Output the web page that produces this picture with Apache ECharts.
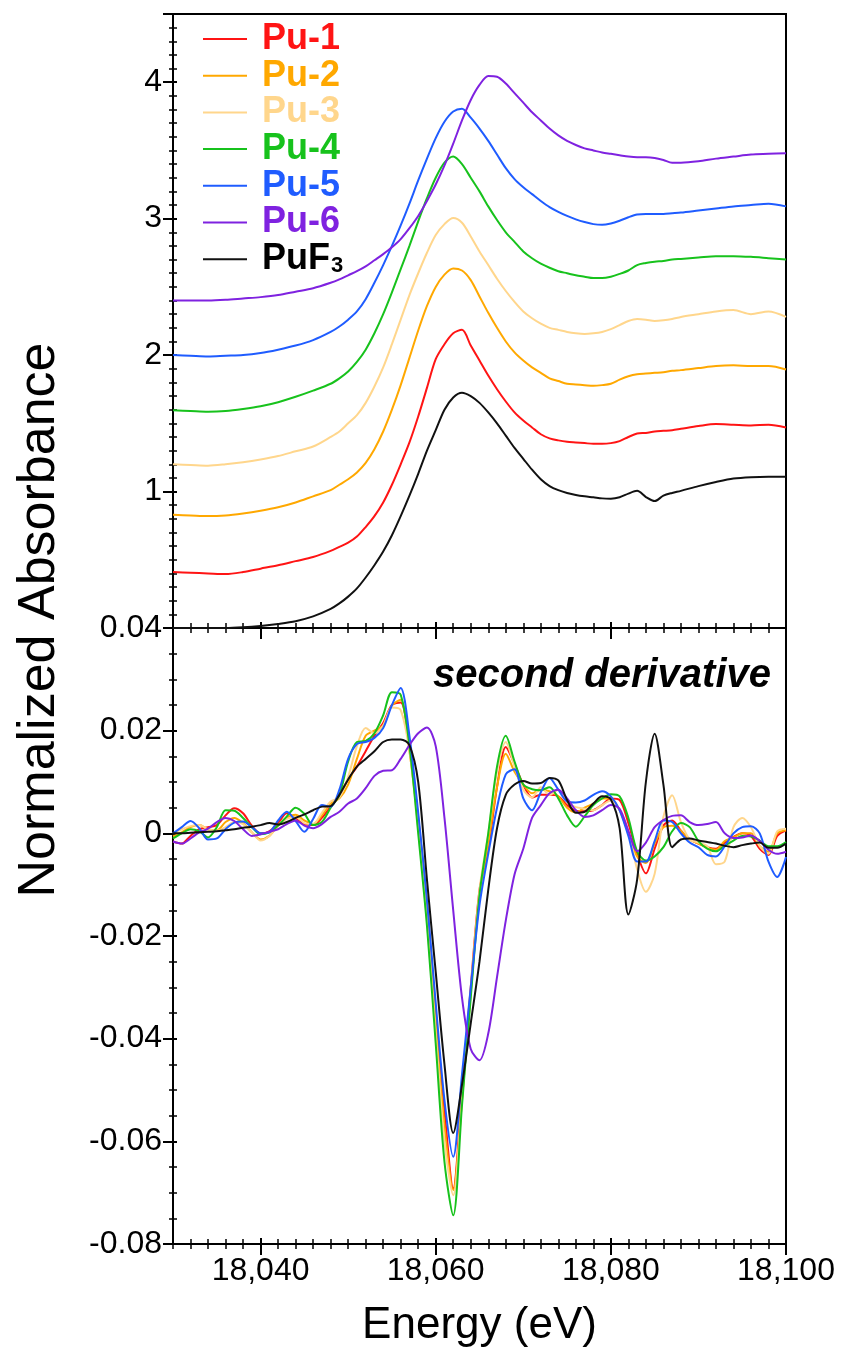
<!DOCTYPE html>
<html>
<head>
<meta charset="utf-8">
<title>Pu L3-edge XANES</title>
<script src="https://cdn.jsdelivr.net/npm/echarts@6/dist/echarts.min.js"></script>
<style>
  html, body { margin: 0; padding: 0; background: #fff; }
  #chart { width: 842px; height: 1352px; }
</style>
</head>
<body>
<div id="chart"></div>
<script>
// ---- data ----
const seriesNames = ['Pu-1', 'Pu-2', 'Pu-3', 'Pu-4', 'Pu-5', 'Pu-6', 'PuF3'];
const xTickLabels = [18040, 18060, 18080, 18100];

// upper panel: normalized absorbance (offset curves)
const energyTop = [18030,18032,18034,18036,18038,18040,18042,18044,18046,18048,
  18049,18050,18051,18052,18053,18054,18055,18056,18057,18058,
  18059,18060,18061,18062,18063,18064,18065,18066,18067,18068,
  18069,18070,18071,18072,18073,18074,18075,18076,18077,18078,
  18079,18080,18081,18082,18083,18084,18085,18086,18087,
  18088,18090,18092,18094,18096,18098,18100];
const absPu1 = [0.41,0.405,0.40,0.395,0.41,0.435,0.46,0.49,0.52,0.565,
  0.595,0.625,0.67,0.74,0.82,0.92,1.05,1.20,1.36,1.55,
  1.76,1.97,2.08,2.16,2.185,2.07,1.96,1.85,1.75,1.66,
  1.58,1.52,1.47,1.42,1.39,1.375,1.365,1.36,1.355,1.35,
  1.35,1.355,1.37,1.40,1.425,1.43,1.44,1.445,1.45,
  1.46,1.48,1.495,1.49,1.485,1.49,1.47];
const absPu2 = [0.83,0.825,0.82,0.825,0.84,0.86,0.885,0.92,0.965,1.01,
  1.05,1.09,1.14,1.21,1.31,1.44,1.60,1.78,1.98,2.18,
  2.36,2.50,2.59,2.635,2.62,2.55,2.43,2.31,2.20,2.10,
  2.02,1.96,1.91,1.87,1.83,1.81,1.79,1.785,1.78,1.775,
  1.78,1.79,1.82,1.845,1.86,1.865,1.87,1.875,1.885,
  1.89,1.905,1.92,1.925,1.92,1.92,1.895];
const absPu3 = [1.20,1.195,1.19,1.20,1.215,1.235,1.26,1.295,1.33,1.40,
  1.44,1.50,1.56,1.65,1.77,1.91,2.08,2.26,2.44,2.60,
  2.75,2.88,2.96,3.005,2.97,2.87,2.76,2.66,2.56,2.47,
  2.39,2.32,2.27,2.23,2.20,2.185,2.17,2.16,2.155,2.16,
  2.17,2.19,2.22,2.25,2.265,2.26,2.25,2.255,2.265,
  2.28,2.30,2.32,2.33,2.30,2.32,2.28];
const absPu4 = [1.595,1.59,1.585,1.59,1.605,1.625,1.655,1.695,1.74,1.79,
  1.83,1.88,1.95,2.04,2.16,2.30,2.46,2.63,2.80,2.98,
  3.15,3.30,3.41,3.455,3.40,3.30,3.20,3.09,2.99,2.90,
  2.83,2.76,2.71,2.67,2.64,2.615,2.60,2.585,2.575,2.565,
  2.565,2.575,2.595,2.62,2.66,2.675,2.685,2.69,2.70,
  2.705,2.715,2.725,2.725,2.72,2.71,2.70];
const absPu5 = [2.0,1.995,1.99,1.995,2.0,2.015,2.04,2.07,2.11,2.17,
  2.21,2.26,2.32,2.41,2.53,2.66,2.80,2.95,3.11,3.28,
  3.44,3.59,3.71,3.785,3.805,3.74,3.66,3.57,3.47,3.37,
  3.29,3.23,3.18,3.13,3.085,3.05,3.02,2.995,2.975,2.96,
  2.955,2.965,2.985,3.01,3.03,3.035,3.035,3.035,3.04,
  3.045,3.06,3.075,3.09,3.10,3.11,3.09];
const absPu6 = [2.40,2.40,2.40,2.405,2.415,2.425,2.44,2.465,2.49,2.53,
  2.555,2.585,2.615,2.65,2.695,2.74,2.79,2.85,2.93,3.02,
  3.13,3.25,3.39,3.55,3.72,3.87,3.98,4.045,4.04,3.99,
  3.92,3.85,3.78,3.72,3.66,3.61,3.57,3.54,3.515,3.50,
  3.485,3.475,3.465,3.455,3.45,3.45,3.445,3.43,3.41,
  3.41,3.42,3.44,3.455,3.47,3.475,3.48];
const absPuF3 = [0,0,0,0,0.005,0.015,0.03,0.05,0.085,0.14,
  0.18,0.23,0.29,0.37,0.46,0.56,0.68,0.82,0.97,1.13,
  1.30,1.45,1.60,1.69,1.725,1.70,1.65,1.58,1.50,1.41,
  1.32,1.24,1.16,1.09,1.04,1.01,0.99,0.975,0.965,0.958,
  0.95,0.948,0.958,0.985,1.005,0.96,0.93,0.97,0.99,
  1.005,1.04,1.07,1.095,1.105,1.108,1.108];

// lower panel: second derivative
const energyDeriv = [18030,18031,18032,18033,18034,18035,18036,18037,18038,18039,
  18040,18041,18042,18043,18044,18045,18046,18047,18048,18049,
  18050,18051,18052,18053,18054,18055,18056,18057,18058,18059,
  18060,18061,18062,18063,18064,18065,18066,18067,18068,18069,
  18070,18071,18072,18073,18074,18075,18076,18077,18078,18079,
  18080,18081,18082,18083,18084,18085,18086,18087,18088,18089,
  18090,18091,18092,18093,18094,18095,18096,18097,18098,18099,
  18100];
const d2Pu1 = [-0.0016,-0.002,-0.0005,0.0008,0.0012,0.0016,0.0035,0.0049,0.0039,0.0015,
  0.0,0.0004,0.002,0.0039,0.003,0.0018,0.0016,0.003,0.0052,0.0075,
  0.0105,0.013,0.016,0.019,0.0215,0.025,0.0255,0.017,0.003,-0.014,
  -0.035,-0.054,-0.0692,-0.050,-0.030,-0.011,-0.003,0.009,0.0168,0.0135,
  0.0095,0.007,0.0075,0.0075,0.0072,0.0055,0.0044,0.0043,0.0045,0.0055,
  0.0068,0.0065,0.002,-0.004,-0.0078,-0.003,0.0015,0.0025,0.0005,-0.0012,
  -0.002,-0.0027,-0.003,-0.0018,-0.0007,0.0,-0.0005,-0.003,-0.0042,-0.0005,
  0.0006];
const d2Pu2 = [-0.0006,0.0002,0.0012,0.0016,0.0008,0.0006,0.0022,0.003,0.002,0.0002,
  -0.0012,-0.0005,0.0015,0.003,0.0036,0.0025,0.0018,0.0035,0.0058,0.0068,
  0.0095,0.0145,0.019,0.020,0.021,0.025,0.026,0.016,0.002,-0.016,
  -0.037,-0.057,-0.0695,-0.052,-0.031,-0.012,-0.002,0.009,0.0155,0.012,
  0.0095,0.0078,0.0085,0.0082,0.0072,0.005,0.0041,0.005,0.0058,0.0068,
  0.0068,0.0045,0.0,-0.0045,-0.0058,-0.002,0.0012,0.0015,0.0005,-0.0012,
  -0.002,-0.0028,-0.0032,-0.0015,-0.0008,0.0,0.0,-0.0025,-0.0036,0.0,
  0.0006];
const d2Pu3 = [0.0,0.0008,0.0014,0.0016,0.0008,0.0005,0.0012,0.0022,0.0018,0.0002,
  -0.0014,-0.0005,0.0015,0.0028,0.0032,0.002,0.0018,0.004,0.0062,0.007,
  0.011,0.017,0.0205,0.0195,0.021,0.0245,0.024,0.016,0.001,-0.017,
  -0.039,-0.060,-0.0705,-0.052,-0.031,-0.011,0.0,0.012,0.0178,0.013,
  0.0085,0.007,0.009,0.0075,0.0085,0.006,0.0051,0.0048,0.0045,0.0055,
  0.0064,0.0045,0.0005,-0.007,-0.0114,-0.0079,0.0032,0.0074,0.0022,-0.0012,
  -0.0018,-0.0025,-0.006,-0.0055,0.0012,0.003,0.0012,-0.0025,-0.004,0.0004,
  0.0009];
const d2Pu4 = [-0.001,0.0,0.0008,0.0004,-0.0008,0.0012,0.0045,0.0044,0.003,0.0012,
  -0.0002,0.0002,0.0015,0.0033,0.005,0.0038,0.0016,0.0022,0.005,0.0075,
  0.014,0.0178,0.018,0.0195,0.023,0.0275,0.027,0.017,0.0,-0.018,
  -0.041,-0.064,-0.0744,-0.053,-0.032,-0.012,0.0,0.013,0.019,0.014,
  0.0095,0.0086,0.0084,0.009,0.0068,0.0035,0.0013,0.0033,0.0055,0.0068,
  0.0076,0.0072,0.003,-0.0035,-0.0053,-0.0045,-0.0027,0.0004,0.002,0.0012,
  -0.0015,-0.003,-0.0035,-0.0024,-0.0014,-0.0005,-0.0006,-0.0014,-0.0025,-0.0025,
  -0.0017];
const d2Pu5 = [0.0,0.0012,0.0024,0.001,-0.0012,-0.001,0.0008,0.0021,0.0023,0.0012,
  0.0,0.0002,0.0025,0.0042,0.0024,0.0003,0.0028,0.0055,0.0052,0.0085,
  0.0145,0.0174,0.0178,0.0186,0.0205,0.025,0.0283,0.019,0.004,-0.013,
  -0.033,-0.052,-0.063,-0.047,-0.030,-0.014,-0.004,0.005,0.0115,0.0125,
  0.0068,0.0045,0.008,0.0108,0.0085,0.0062,0.006,0.0064,0.0075,0.0082,
  0.0072,0.0045,-0.0005,-0.0055,-0.0055,-0.0015,0.0025,0.0022,0.0,-0.0018,
  -0.0027,-0.0042,-0.0045,-0.0025,0.0,0.0012,0.0014,0.0,-0.0055,-0.0085,
  -0.0046];
const d2Pu6 = [-0.0016,-0.002,-0.001,0.0002,0.0009,0.0022,0.003,0.0024,0.0008,-0.0005,
  -0.0002,0.0003,0.0008,0.0018,0.0025,0.0015,0.001,0.0018,0.0032,0.0042,
  0.0058,0.0068,0.0088,0.0112,0.0122,0.0123,0.0145,0.0172,0.0195,0.0206,
  0.017,0.003,-0.015,-0.032,-0.042,-0.0442,-0.039,-0.028,-0.017,-0.008,
  -0.003,0.003,0.0055,0.0078,0.0085,0.0068,0.0045,0.0032,0.0035,0.0045,
  0.0055,0.0048,0.0005,-0.0035,-0.0018,0.0012,0.0026,0.0034,0.0035,0.0022,
  0.0016,0.0018,0.0022,0.0,-0.0009,-0.0008,-0.0004,-0.0015,-0.0032,-0.004,
  -0.0036];
const d2PuF3 = [0.0,0.0,0.0001,0.0002,0.0003,0.0004,0.0006,0.0008,0.0011,0.0013,
  0.0016,0.002,0.0017,0.0022,0.003,0.0037,0.0045,0.0052,0.0053,0.0075,
  0.0105,0.013,0.0145,0.016,0.0178,0.0183,0.0183,0.0172,0.010,-0.009,
  -0.027,-0.045,-0.0584,-0.049,-0.037,-0.025,-0.011,0.001,0.0075,0.0095,
  0.0102,0.0097,0.0098,0.0108,0.0103,0.0065,0.004,0.0042,0.0058,0.0072,
  0.0066,0.001,-0.0158,-0.009,0.010,0.0194,0.0095,-0.0027,-0.0012,-0.001,
  -0.0014,-0.0017,-0.002,-0.0024,-0.0027,-0.0023,-0.002,-0.0018,-0.0028,-0.0028,
  -0.002];

const colors = ['#ff1414', '#ffa800', '#ffd68c', '#17c21c', '#1f5cff', '#7f22e0', '#111111'];
const absData = [absPu1, absPu2, absPu3, absPu4, absPu5, absPu6, absPuF3];
const d2Data = [d2Pu1, d2Pu2, d2Pu3, d2Pu4, d2Pu5, d2Pu6, d2PuF3];

const FONT = 'Liberation Sans';
let chart = echarts.init(document.getElementById('chart'), null, { renderer: 'canvas' });

function xFmt(v) {
  if (v % 20 !== 0) return '';
  let s = String(Math.round(v));
  return s.slice(0, s.length - 3) + ',' + s.slice(-3);
}

// every axis sits on the left / bottom edge of its grid; offset pulls it
// into the plot so outward ticks cross the frame line
function tickAxis(grid, pos, min, max, interval, offset, len, width) {
  return {
    gridIndex: grid, type: 'value', position: pos,
    min: min, max: max, interval: interval, offset: offset,
    axisLine: { show: false, onZero: false },
    axisTick: { show: true, length: len, lineStyle: { color: '#000', width: width } },
    axisLabel: { show: false },
    splitLine: { show: false }
  };
}

function makeLine(name, color, xs, ys, axisIdx) {
  return {
    name: name,
    type: 'line',
    xAxisIndex: axisIdx,
    yAxisIndex: axisIdx,
    data: xs.map((e, i) => [e, ys[i]]),
    symbol: 'none',
    smooth: 0.3,
    lineStyle: { color: color, width: 2 },
    itemStyle: { color: color },
    z: 3
  };
}

let series = [];
seriesNames.forEach((n, k) => series.push(makeLine(n, colors[k], energyTop, absData[k], 0)));
seriesNames.forEach((n, k) => series.push(makeLine(n, colors[k], energyDeriv, d2Data[k], 2)));

// x axes: 0/1 upper panel, 2/3 lower panel
let xMajorTop = tickAxis(0, 'bottom', 18030, 18100, 10, -6, 17, 2);
xMajorTop.axisTick.customValues = xTickLabels;
let xMajorBot = tickAxis(1, 'bottom', 18030, 18100, 10, -6, 17, 2);
xMajorBot.axisTick.customValues = xTickLabels;
xMajorBot.axisLabel = {
  show: true, customValues: xTickLabels, formatter: xFmt, margin: 17,
  fontFamily: FONT, fontSize: 32, color: '#000'
};
xMajorBot.name = 'Energy (eV)';
xMajorBot.nameLocation = 'middle';
xMajorBot.nameGap = 66;
xMajorBot.nameTextStyle = { fontFamily: FONT, fontSize: 44, color: '#000' };

let yMajorTop = tickAxis(0, 'left', 0, 4.5, 1, -4, 14, 2);
yMajorTop.axisLabel = {
  show: true, margin: 15, fontFamily: FONT, fontSize: 32, color: '#000',
  formatter: v => (v > 0 && Math.abs(v - Math.round(v)) < 1e-6) ? String(Math.round(v)) : ''
};
let yMajorBot = tickAxis(1, 'left', -0.08, 0.04, 0.02, -4, 14, 2);
yMajorBot.axisLabel = {
  show: true, margin: 15, fontFamily: FONT, fontSize: 32, color: '#000',
  formatter: v => Math.abs(v) < 1e-9 ? '0' : v.toFixed(2)
};

let option = {
  animation: false,
  backgroundColor: '#fff',
  grid: [
    { left: 173, top: 14, width: 613, height: 614, show: true, borderColor: '#000', borderWidth: 2,
      backgroundColor: 'transparent', containLabel: false, outerBoundsMode: 'none' },
    { left: 173, top: 628, width: 613, height: 616, show: true, borderColor: '#000', borderWidth: 2,
      backgroundColor: 'transparent', containLabel: false, outerBoundsMode: 'none' }
  ],
  xAxis: [
    tickAxis(0, 'bottom', 18030, 18100, 2, -5, 10, 1.5),
    xMajorTop,
    tickAxis(1, 'bottom', 18030, 18100, 2, -5, 10, 1.5),
    xMajorBot
  ],
  yAxis: [
    tickAxis(0, 'left', 0, 4.5, 0.1, -4, 8, 1.5),
    yMajorTop,
    tickAxis(1, 'left', -0.08, 0.04, 0.005, -4, 8, 1.5),
    yMajorBot
  ],
  legend: {
    orient: 'vertical',
    left: 203,
    top: 21,
    padding: 0,
    icon: 'rect',
    itemWidth: 44,
    itemHeight: 2,
    itemGap: 0.7,
    selectedMode: false,
    formatter: name => name === 'PuF3' ? 'PuF{sub|3}' : name,
    textStyle: {
      fontFamily: FONT, fontSize: 36, fontWeight: 'bold', lineHeight: 33,
      padding: [0, 0, 0, 10],
      rich: { sub: { fontFamily: FONT, fontSize: 22, fontWeight: 'bold', color: '#000', padding: [14, 0, 0, 1] } }
    },
    data: seriesNames.map((n, k) => ({ name: n, textStyle: { color: k === 6 ? '#000' : colors[k] } }))
  },
  graphic: [
    {
      type: 'text', x: 40, y: 620, rotation: Math.PI / 2,
      style: { text: 'Normalized Absorbance', fontFamily: FONT, fontSize: 52, fill: '#000', align: 'center', verticalAlign: 'middle' }
    },
    {
      type: 'text', x: 771, y: 676,
      style: { text: 'second derivative', fontFamily: FONT, fontSize: 40, fontWeight: 'bold', fontStyle: 'italic', fill: '#000', align: 'right', verticalAlign: 'middle' }
    }
  ],
  series: series
};

chart.setOption(option);
</script>
</body>
</html>
